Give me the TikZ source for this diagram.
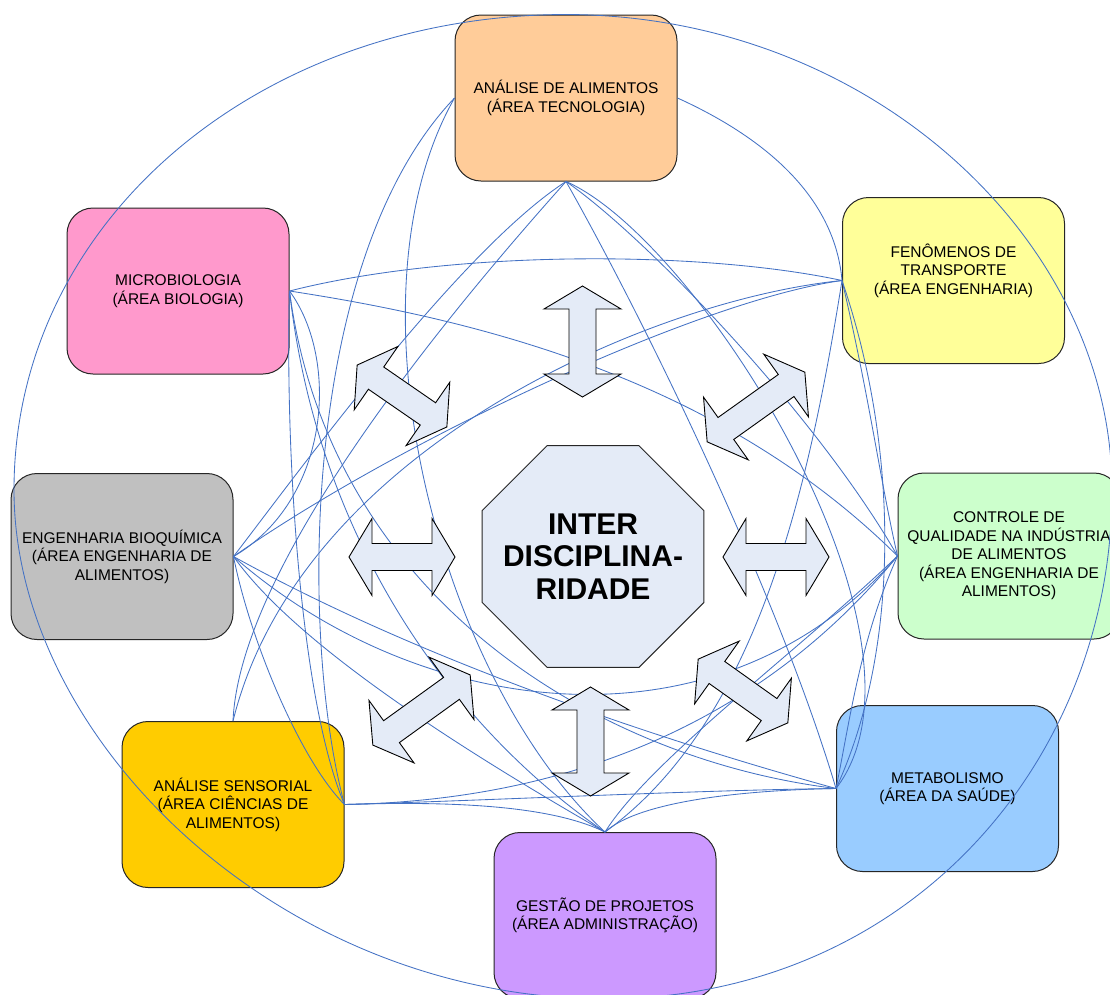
\documentclass[tikz,border=0pt]{standalone}
\usepackage{fontspec}
\setmainfont{Liberation Sans}
\usetikzlibrary{shapes.geometric,calc}
\definecolor{cA}{HTML}{FFCC99}
\definecolor{cB}{HTML}{FFFF99}
\definecolor{cC}{HTML}{CCFFCC}
\definecolor{cD}{HTML}{99CCFF}
\definecolor{cE}{HTML}{CC99FF}
\definecolor{cF}{HTML}{FFCC00}
\definecolor{cG}{HTML}{C0C0C0}
\definecolor{cH}{HTML}{FF99CC}
\definecolor{linkblue}{RGB}{68,114,196}
\definecolor{pale}{RGB}{228,235,247}
\tikzset{
  box/.style={draw=black!85, line width=1pt, rounded corners=26pt, minimum width=222pt,
    minimum height=166pt, inner sep=0pt, align=center, font=\fontsize{15.5}{18.5}\selectfont},
  link/.style={draw=linkblue, line width=0.85pt},
  darr/.style={draw=black, fill=pale, line width=0.9pt, line join=miter},
  octo/.style={regular polygon, regular polygon sides=8, minimum size=240pt, inner sep=0pt,
    draw=black!85, line width=1pt, fill=pale},
  octotext/.style={align=center, font=\bfseries\fontsize{30}{32.5}\selectfont}
}
\newcommand\dblarrow[4]{%
  \begin{scope}[shift={(#1,#2)}, rotate=#3]
    \path[darr] (-#4,0) -- ({-#4+23},-38.5) -- ({-#4+23},-13.5) -- ({#4-23},-13.5)
      -- ({#4-23},-38.5) -- (#4,0) -- ({#4-23},38.5) -- ({#4-23},13.5)
      -- ({-#4+23},13.5) -- ({-#4+23},38.5) -- cycle;
  \end{scope}}
\begin{document}
\begin{tikzpicture}[x=1pt,y=-1pt]
\useasboundingbox (0,0) rectangle (1110,994);
\clip (0,0) rectangle (1110,994);
% boxes
\node[box, fill=cA] (b1) at (566,98) {ANÁLISE DE ALIMENTOS\\(ÁREA TECNOLOGIA)};
\node[box, fill=cB, label={[align=center, font=\fontsize{15.5}{18.5}\selectfont, yshift=10pt]center:{FENÔMENOS DE\\TRANSPORTE\\(ÁREA ENGENHARIA)}}] (b2) at (953.5,280.5) {};
\node[box, fill=cC] (b3) at (1009,556) {CONTROLE DE\\QUALIDADE NA INDÚSTRIA\\DE ALIMENTOS\\(ÁREA ENGENHARIA DE\\ALIMENTOS)};
\node[box, fill=cD] (b4) at (947.5,788.5) {METABOLISMO\\(ÁREA DA SAÚDE)};
\node[box, fill=cE] (b5) at (605,915.5) {GESTÃO DE PROJETOS\\(ÁREA ADMINISTRAÇÃO)};
\node[box, fill=cF] (b6) at (233,804.5) {ANÁLISE SENSORIAL\\(ÁREA CIÊNCIAS DE\\ALIMENTOS)};
\node[box, fill=cG] (b7) at (122,556.5) {ENGENHARIA BIOQUÍMICA\\(ÁREA ENGENHARIA DE\\ALIMENTOS)};
\node[box, fill=cH] (b8) at (178,291) {MICROBIOLOGIA\\(ÁREA BIOLOGIA)};
% big outer curves
\draw[link] (b1.north) .. controls (260,15) and (14,220) .. (14,490)
   .. controls (14,740) and (280,998) .. (b5.south);
\draw[link] (b1.north) .. controls (870,15) and (1112,240) .. (1112,490)
   .. controls (1112,760) and (910,998) .. (b5.south);
% connectors
\draw[link] (b1.east) .. controls (770,140) and (835,200) .. (b2.west);
\draw[link] (b1.south) .. controls (650,240) and (820,420) .. (b3.west);
\draw[link] (b1.south) .. controls (650,330) and (780,600) .. (b4.west);
\draw[link] (b1.south) .. controls (700,240) and (950,640) .. (b4.west);
\draw[link] (b1.west) .. controls (340,300) and (440,680) .. (b5.north);
\draw[link] (b1.west) .. controls (300,260) and (300,640) .. (b6.east);
\draw[link] (b1.south) .. controls (460,300) and (240,560) .. (b6.north);
\draw[link] (b1.south) .. controls (460,250) and (300,470) .. (b7.east);
\draw[link] (b8.east) .. controls (450,250) and (700,250) .. (b2.west);
\draw[link] (b8.east) .. controls (480,320) and (720,380) .. (b3.west);
\draw[link] (b8.east) .. controls (340,360) and (330,500) .. (b7.east);
\draw[link] (b8.east) .. controls (285,450) and (300,700) .. (b6.east);
\draw[link] (b8.east) .. controls (320,560) and (470,740) .. (b5.north);
\draw[link] (b8.east) .. controls (330,600) and (600,760) .. (b4.west);
\draw[link] (b2.west) .. controls (700,300) and (400,440) .. (b7.east);
\draw[link] (b2.west) .. controls (650,300) and (300,450) .. (b6.north);
\draw[link] (b2.west) .. controls (870,400) and (880,480) .. (b3.west);
\draw[link] (b2.west) .. controls (900,450) and (900,650) .. (b4.west);
\draw[link] (b2.west) .. controls (810,480) and (760,720) .. (b5.north);
\draw[link] (b3.west) .. controls (780,700) and (600,800) .. (b6.east);
\draw[link] (b3.west) .. controls (720,760) and (420,720) .. (b7.east);
\draw[link] (b3.west) .. controls (800,650) and (650,760) .. (b5.north);
\draw[link] (b3.west) .. controls (860,640) and (850,720) .. (b4.west);
\draw[link] (b7.east) .. controls (420,660) and (660,740) .. (b4.west);
\draw[link] (b6.east) .. controls (500,800) and (700,790) .. (b4.west);
\draw[link] (b4.west) .. controls (750,790) and (640,800) .. (b5.north);
\draw[link] (b6.east) .. controls (480,800) and (560,810) .. (b5.north);
\draw[link] (b7.east) .. controls (300,650) and (480,760) .. (b5.north);
\draw[link] (b7.east) .. controls (250,640) and (300,760) .. (b6.east);
% centre
\node[octo, label={[octotext]center:{INTER\\DISCIPLINA-\\RIDADE}}] (mid) at (593,556.5) {};
% double arrows
\dblarrow{582.5}{341.5}{90}{55.5}
\dblarrow{590.5}{741.5}{90}{54.5}
\dblarrow{402}{557}{0}{53}
\dblarrow{776}{557}{0}{53}
\dblarrow{402}{396}{-34.6}{54.5}
\dblarrow{756}{407}{35.5}{60}
\dblarrow{421.5}{710}{35.8}{60}
\dblarrow{743}{691}{-35.4}{55}
\end{tikzpicture}
\end{document}
